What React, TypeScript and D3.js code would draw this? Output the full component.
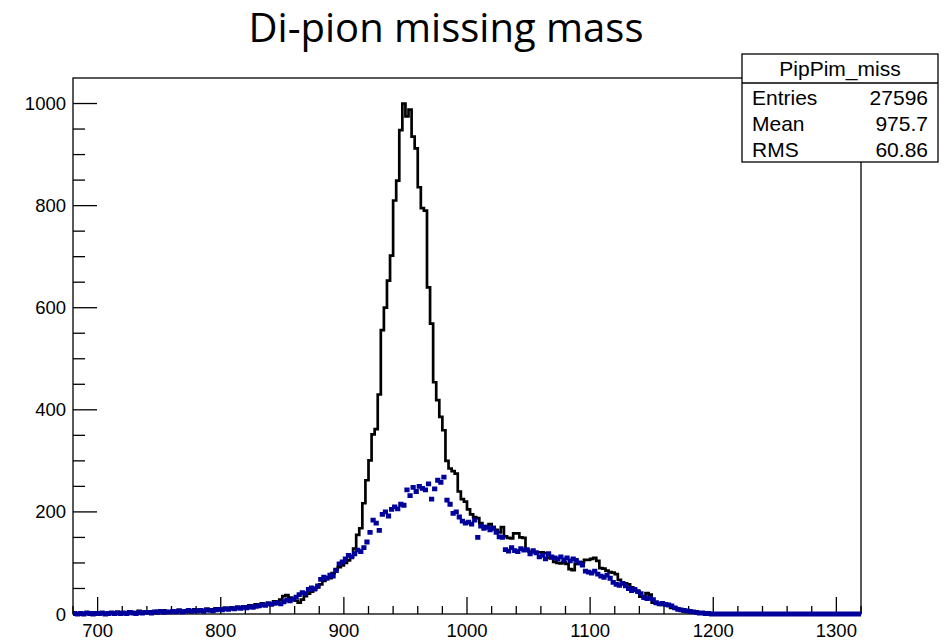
import React from "react";
import * as d3 from "d3";

const chartTitle = "Di-pion missing mass";
const binStart = 680;
const binWidth = 2.5;
const xDomain = [680, 1320];
const yDomain = [0, 1050];
const xMajorTicks = [700, 800, 900, 1000, 1100, 1200, 1300];
const yMajorTicks = [0, 200, 400, 600, 800, 1000];
const statsName = "PipPim_miss";
const statsLabels = ["Entries", "Mean", "RMS"];
const statsValues = ["27596", "975.7", "60.86"];

// black histogram (2.5 MeV bins from 680)
const blackCounts = [
  0, 1, 0, 2, 1, 0, 3, 1,
  2, 0, 1, 3, 2, 1, 4, 2,
  3, 2, 5, 1, 3, 6, 2, 4,
  3, 5, 2, 6, 4, 7, 3, 5,
  6, 4, 8, 5, 7, 4, 6, 9,
  5, 8, 6, 10, 7, 9, 11, 8,
  10, 12, 9, 13, 11, 14, 12, 15,
  14, 17, 15, 19, 16, 21, 18, 22,
  21, 25, 23, 28, 35, 37, 32, 30,
  26, 22, 28, 35, 40, 44, 48, 52,
  58, 65, 72, 70, 80, 88, 92, 95,
  100, 105, 112, 128, 155, 168, 217, 262,
  301, 352, 362, 430, 556, 600, 653, 702,
  810, 849, 948, 1000, 975, 988, 935, 912,
  836, 795, 790, 640, 569, 454, 419, 386,
  360, 300, 285, 280, 275, 240, 225, 220,
  205, 195, 190, 188, 178, 172, 168, 176,
  170, 165, 160, 170, 152, 149, 148, 158,
  158, 150, 149, 126, 122, 121, 120, 121,
  121, 119, 110, 109, 102, 100, 99, 101,
  98, 88, 86, 98, 100, 101, 106, 106,
  108, 110, 104, 90, 89, 85, 82, 81,
  78, 67, 62, 60, 58, 52, 47, 45,
  34, 33, 41, 38, 22, 21, 20, 18,
  18, 16, 12, 13, 11, 8, 5, 4,
  4, 3, 5, 2, 3, 1, 2, 0,
  1, 0, 0, 1, 0, 0, 0, 0,
  0, 0, 0, 0, 0, 0, 0, 0,
  0, 0, 0, 0, 0, 0, 0, 0,
  0, 0, 0, 0, 0, 0, 0, 0,
  0, 0, 0, 0, 0, 0, 0, 0,
  0, 0, 0, 0, 0, 0, 0, 0,
];

// blue histogram (2.5 MeV bins from 680)
const blueCounts = [
  1, 0, 1, 0, 2, 1, 0, 1,
  1, 2, 0, 1, 2, 1, 2, 1,
  2, 1, 3, 2, 1, 3, 2, 3,
  3, 2, 4, 3, 5, 3, 4, 4,
  5, 4, 6, 4, 5, 7, 5, 6,
  6, 7, 5, 8, 7, 6, 8, 9,
  8, 10, 9, 11, 10, 12, 11, 13,
  12, 14, 13, 15, 16, 18, 17, 20,
  19, 21, 22, 20, 24, 27, 26, 29,
  33, 38, 42, 40, 48, 51, 49, 55,
  68, 72, 70, 76, 74, 85, 98, 102,
  108, 115, 112, 118, 125, 122, 130, 141,
  160, 184, 178, 164, 195, 200, 192, 205,
  210, 206, 215, 213, 243, 232, 248, 240,
  250, 246, 243, 255, 225, 245, 262, 258,
  268, 223, 215, 197, 200, 190, 182, 178,
  180, 176, 184, 150, 172, 168, 170, 165,
  168, 160, 151, 150, 126, 123, 130, 124,
  122, 128, 125, 126, 118, 124, 120, 112,
  115, 108, 118, 112, 110, 108, 112, 106,
  110, 104, 108, 105, 100, 96, 84, 82,
  80, 84, 78, 74, 72, 76, 70, 62,
  58, 56, 60, 55, 50, 46, 48, 44,
  40, 32, 30, 31, 28, 22, 20, 21,
  19, 18, 16, 12, 9, 8, 7, 6,
  5, 4, 3, 2, 2, 1, 1, 0,
  0, 0, 0, 0, 0, 0, 0, 0,
  0, 0, 0, 0, 0, 0, 0, 0,
  0, 0, 0, 0, 0, 0, 0, 0,
  0, 0, 0, 0, 0, 0, 0, 0,
  0, 0, 0, 0, 0, 0, 0, 0,
  0, 0, 0, 0, 0, 0, 0, 0,
];

export default function App() {
  const W = 948;
  const H = 641;
  const left = 73, right = 861, top = 78, bottom = 614;
  const x = d3.scaleLinear().domain(xDomain).range([left, right]);
  const y = d3.scaleLinear().domain(yDomain).range([bottom, top]);

  const blackPts: [number, number][] = blackCounts.map((c, i) => [binStart + i * binWidth, c]);
  blackPts.push([binStart + blackCounts.length * binWidth, blackCounts[blackCounts.length - 1]]);
  const stepLine = d3
    .line<[number, number]>()
    .x((d) => x(d[0]))
    .y((d) => y(d[1]))
    .curve(d3.curveStepAfter);
  const blackPath = stepLine(blackPts) || "";

  // blue markers: small squares at bin centres
  const markerHalf = 2.6;
  const bluePath = blueCounts
    .map((c, i) => {
      const xc = x(binStart + (i + 0.5) * binWidth);
      const x0 = Math.max(left, xc - markerHalf);
      const x1 = Math.min(right, xc + markerHalf);
      return `M${x0},${y(c)}H${x1}`;
    })
    .join("");

  const xMinor = d3.range(xDomain[0], xDomain[1] + 0.001, 20).filter((v) => v % 100 !== 0);
  const yMinor = d3.range(0, 1050, 50).filter((v) => v % 200 !== 0);

  const axisFont = "'Liberation Sans', Arial, sans-serif";

  const boxL = 742, boxR = 938, boxT = 54, boxB = 162, boxSep = 83;
  const rowBaselines = [104.5, 131, 157];

  return (
    <svg
      width={W}
      height={H}
      style={{ position: "fixed", left: 0, top: 0, background: "#fff" }}
    >
      <rect x={0} y={0} width={W} height={H} fill="#fff" />
      <text
        x={446}
        y={42}
        textAnchor="middle"
        fontFamily="'Open Sans', sans-serif"
        fontSize={40}
        fill="#000"
      >
        {chartTitle}
      </text>

      {/* frame */}
      <rect x={left} y={top} width={right - left} height={bottom - top} fill="none" stroke="#000" strokeWidth={1.3} />

      {/* y ticks */}
      {yMajorTicks.map((v) => (
        <g key={"ym" + v}>
          <line x1={left} x2={left + 24} y1={y(v)} y2={y(v)} stroke="#000" strokeWidth={1.3} />
          <text x={66} y={y(v) + 6.5} textAnchor="end" fontFamily={axisFont} fontSize={18.5} fill="#000">
            {v}
          </text>
        </g>
      ))}
      {yMinor.map((v) => (
        <line key={"yn" + v} x1={left} x2={left + 12} y1={y(v)} y2={y(v)} stroke="#000" strokeWidth={1.3} />
      ))}

      {/* x ticks */}
      {xMajorTicks.map((v) => (
        <g key={"xm" + v}>
          <line x1={x(v)} x2={x(v)} y1={bottom} y2={bottom - 17} stroke="#000" strokeWidth={1.3} />
          <text x={x(v)} y={637} textAnchor="middle" fontFamily={axisFont} fontSize={18.5} fill="#000">
            {v}
          </text>
        </g>
      ))}
      {xMinor.map((v) => (
        <line key={"xn" + v} x1={x(v)} x2={x(v)} y1={bottom} y2={bottom - 8} stroke="#000" strokeWidth={1.3} />
      ))}

      {/* histograms */}
      <path d={blackPath} fill="none" stroke="#000" strokeWidth={2.7} strokeLinejoin="miter" />
      <path d={bluePath} fill="none" stroke="#00009a" strokeWidth={4.8} strokeLinecap="butt" />

      {/* stats box */}
      <rect x={boxL} y={boxT} width={boxR - boxL} height={boxB - boxT} fill="#fff" stroke="#000" strokeWidth={1.3} />
      <line x1={boxL} x2={boxR} y1={boxSep} y2={boxSep} stroke="#000" strokeWidth={1.3} />
      <text x={(boxL + boxR) / 2} y={76} textAnchor="middle" fontFamily={axisFont} fontSize={21} fill="#000">
        {statsName}
      </text>
      {statsLabels.map((lab, i) => (
        <g key={lab}>
          <text x={752} y={rowBaselines[i]} fontFamily={axisFont} fontSize={21} fill="#000">
            {lab}
          </text>
          <text x={928} y={rowBaselines[i]} textAnchor="end" fontFamily={axisFont} fontSize={21} fill="#000">
            {statsValues[i]}
          </text>
        </g>
      ))}
    </svg>
  );
}
